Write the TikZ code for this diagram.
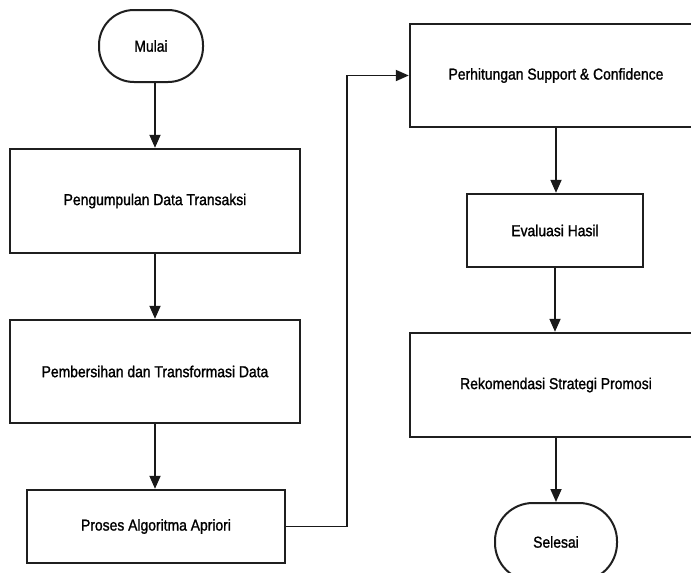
\documentclass[tikz,border=0pt]{standalone}
\usepackage{fontspec}
\setmainfont{Liberation Sans}[FakeStretch=0.88, FakeBold=1.3]
\usetikzlibrary{arrows.meta}
\tikzset{
  procbox/.style={draw=black!88, line width=2.4pt, fill=white, rectangle, inner sep=0pt, font=\fontsize{15.8}{18}\selectfont},
  termbox/.style={draw=black!88, line width=2pt, fill=white, rectangle, inner sep=0pt, font=\fontsize{15.8}{18}\selectfont},
  flow/.style={draw=black!90, line width=1.8pt, -{Triangle[length=13pt,width=11pt]}}
}
\begin{document}
\begin{tikzpicture}[x=1pt,y=-1pt]
\useasboundingbox (0,0) rectangle (691,573);
\clip (0,0) rectangle (691,573);
\fill[white] (0,0) rectangle (691,573);
\node[termbox, rounded corners=35pt, minimum width=104pt, minimum height=72pt] (mulai) at (151,46) {Mulai};
\node[procbox, minimum width=290pt, minimum height=104pt] (b1) at (155,201) {Pengumpulan Data Transaksi};
\node[procbox, minimum width=290pt, minimum height=103pt] (b2) at (155,371.5) {Pembersihan dan Transformasi Data};
\node[procbox, minimum width=258pt, minimum height=73pt] (b3) at (156,526.5) {Proses Algoritma Apriori};
\node[procbox, minimum width=292pt, minimum height=103pt] (b4) at (556,75.5) {Perhitungan Support \& Confidence};
\node[procbox, minimum width=176pt, minimum height=73pt] (b5) at (555,230.5) {Evaluasi Hasil};
\node[procbox, minimum width=292pt, minimum height=104pt] (b6) at (556,385) {Rekomendasi Strategi Promosi};
\node[termbox, rounded corners=38pt, minimum width=122pt, minimum height=78pt] (selesai) at (556,542) {Selesai};
\coordinate (c1) at (347,300);
\draw[flow] (b1.north |- mulai.south) -- (b1.north);
\draw[flow] (b1.south) -- (b2.north);
\draw[flow] (b2.south) -- (b2.south |- b3.north);
\draw[flow] (b3.east) -- (b3.east -| c1) -- (c1 |- b4.west) -- (b4.west);
\draw[flow] (b4.south) -- (b4.south |- b5.north);
\draw[flow] (b5.south) -- (b5.south |- b6.north);
\draw[flow] (b6.south) -- (selesai.north);
\end{tikzpicture}
\end{document}
